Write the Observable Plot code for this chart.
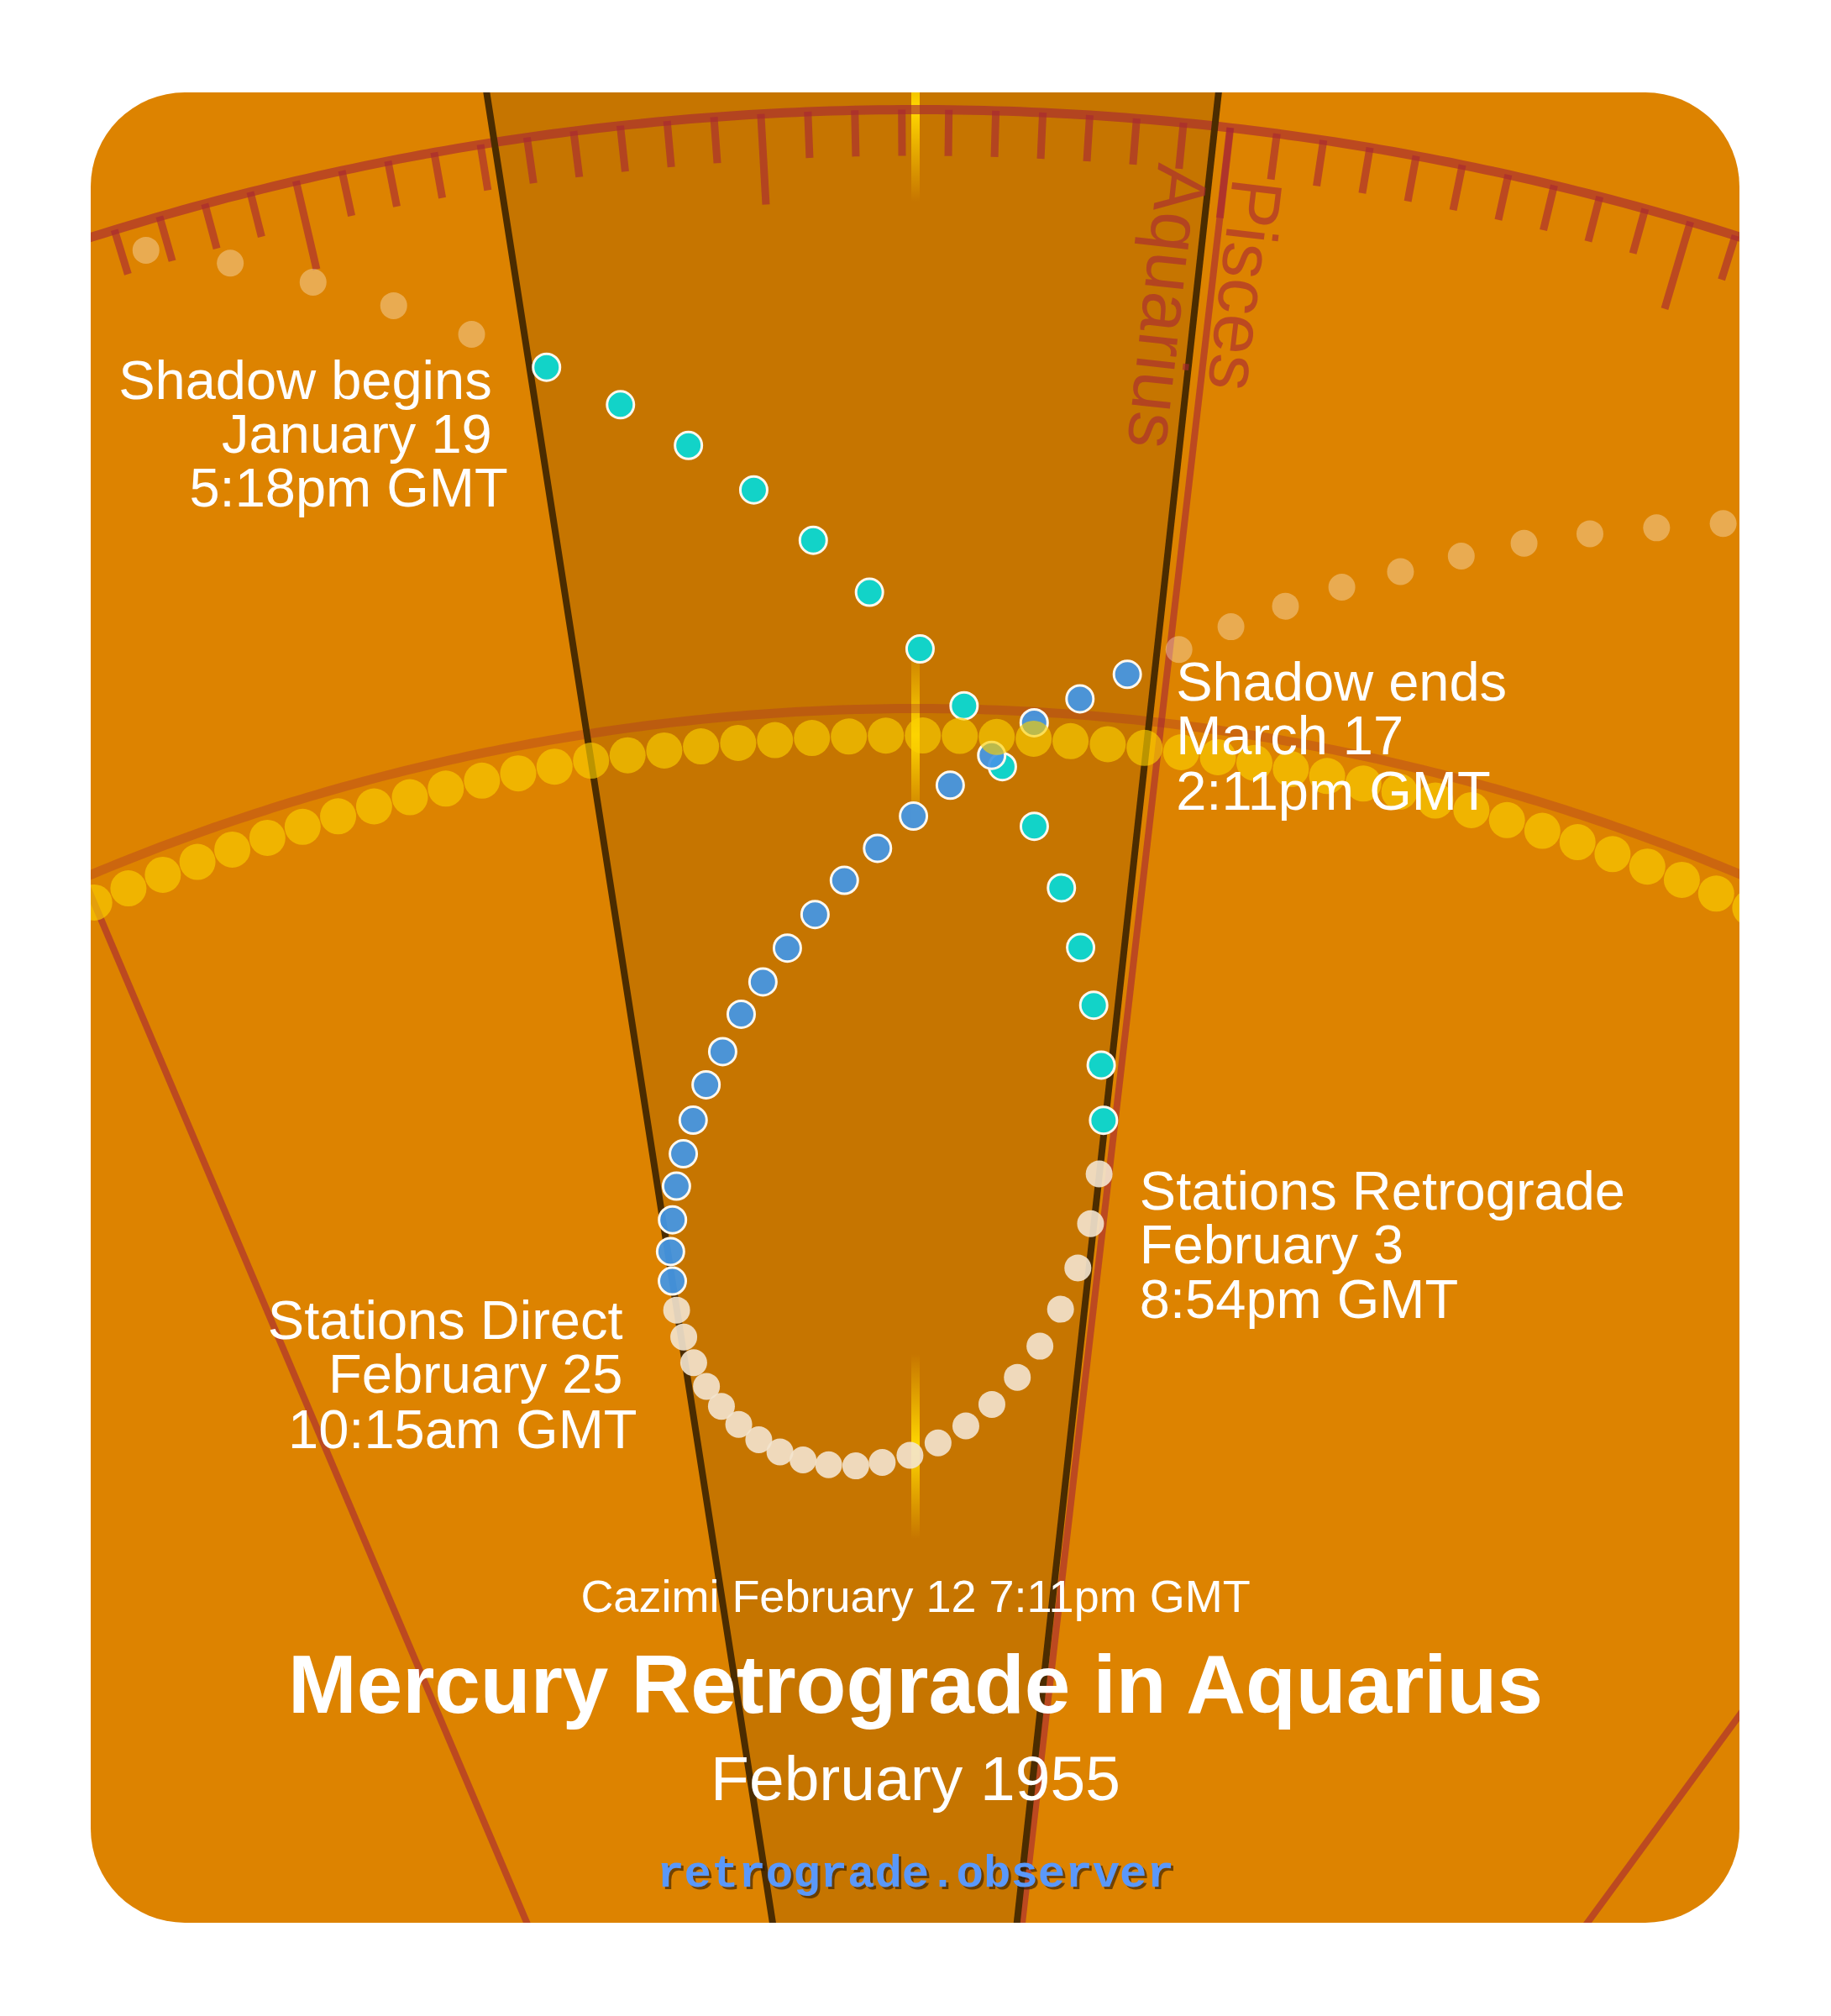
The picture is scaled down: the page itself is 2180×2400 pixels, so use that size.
<!DOCTYPE html>
<html>
<head>
<meta charset="utf-8">
<script src="https://cdn.jsdelivr.net/npm/d3@7"></script>
<script src="https://cdn.jsdelivr.net/npm/@observablehq/plot@0.6"></script>
<style>
  html, body { margin: 0; padding: 0; background: #ffffff; }
  #card { position: absolute; left: 108px; top: 110px; width: 1963px; height: 2179px;
          border-radius: 112px; overflow: hidden; background: #dd8300; }
  #card svg { display: block; }
</style>
</head>
<body>
<div id="card"></div>
<script>
// ---------------- data (ecliptic longitude in degrees, radial distance in chart units) ----------------
const cazimiLon = 323.3;          // Sun–Mercury conjunction, centre of the view
const stationDirectLon = 314.30;  // shadow begins / stations direct
const stationRetroLon = 329.67;   // stations retrograde / shadow ends
const signBoundaries = [300, 330, 360];
const signNames = ["Aquarius", "Pisces"];

// Mercury, one dot per day
const preLon  = [306.52, 308.20, 309.86, 311.50, 313.11];
const preDist = [3216, 3174, 3128, 3080, 3029];

const shadowInLon  = [314.69, 316.29, 317.80, 319.30, 320.71, 322.10, 323.41, 324.61, 325.72, 326.71, 327.62, 328.34, 328.91, 329.34, 329.61];
const shadowInDist = [2976, 2920, 2863, 2804, 2740, 2676, 2608, 2541, 2470, 2401, 2330, 2261, 2194, 2124, 2059];

const retroLon  = [329.66, 329.55, 329.26, 328.77, 328.11, 327.32, 326.37, 325.35, 324.22, 323.05, 321.88, 320.76, 319.62, 318.56, 317.63, 316.81, 316.07, 315.47, 314.99, 314.63, 314.40, 314.29];
const retroDist = [1995, 1935, 1881, 1830, 1784, 1745, 1711, 1684, 1663, 1648, 1640, 1637, 1640, 1648, 1660, 1677, 1698, 1722, 1748, 1778, 1810, 1843];

const shadowOutLon  = [314.30, 314.40, 314.64, 314.95, 315.34, 315.82, 316.39, 317.05, 317.76, 318.53, 319.36, 320.26, 321.18, 322.18, 323.23, 324.27, 325.41, 326.54, 327.74, 328.95];
const shadowOutDist = [1878, 1913, 1950, 1989, 2026, 2064, 2104, 2141, 2183, 2219, 2257, 2295, 2334, 2371, 2409, 2446, 2483, 2524, 2556, 2590];

const postLon  = [330.24, 331.51, 332.82, 334.15, 335.52, 336.91, 338.33, 339.81, 341.30, 342.77];
const postDist = [2626, 2661, 2695, 2729, 2761, 2795, 2828, 2860, 2890, 2920];

// Sun, one dot per day
const sunLon = [297.97, 298.99, 300.01, 301.03, 302.05, 303.07, 304.09, 305.11, 306.13, 307.15,
                308.18, 309.20, 310.22, 311.24, 312.26, 313.28, 314.30, 315.32, 316.34, 317.36,
                318.39, 319.41, 320.43, 321.45, 322.47, 323.49, 324.51, 325.53, 326.55, 327.57,
                328.60, 329.62, 330.64, 331.66, 332.68, 333.70, 334.72, 335.74, 336.76, 337.78,
                338.81, 339.83, 340.85, 341.87, 342.89, 343.91, 344.93, 345.95, 346.97, 347.99, 349.01];
const sunDist = 2505;
const mercuryCazimiDist = 1658;

// text
const eventNames = ["Shadow begins", "Stations Retrograde", "Stations Direct", "Shadow ends"];
const eventDates = ["January 19", "February 3", "February 25", "March 17"];
const eventTimes = ["5:18pm GMT", "8:54pm GMT", "10:15am GMT", "2:11pm GMT"];
const cazimiLabel = "Cazimi February 12 7:11pm GMT";
const titleText = "Mercury Retrograde in Aquarius";
const subtitleText = "February 1955";
const siteText = "retrograde.observer";

// ---------------- projection ----------------
const R_OUT = 3250;      // zodiac ring
const R_SUNLINE = 2537;  // ecliptic line beside the sun track
const K = 0.987;
const rad = d => d * Math.PI / 180;
function proj(lon, dist) {
  const a = rad(K * (lon - cazimiLon));
  return {x: dist * Math.sin(a), y: dist * Math.cos(a)};
}
const phase = (lons, dists) => lons.map((lon, i) => ({lon, dist: dists[i], ...proj(lon, dists[i])}));

const pre = phase(preLon, preDist);
const shadowIn = phase(shadowInLon, shadowInDist);
const retro = phase(retroLon, retroDist);
const shadowOut = phase(shadowOutLon, shadowOutDist);
const post = phase(postLon, postDist);
const sun = sunLon.map(lon => ({lon, ...proj(lon, sunDist)}));

const W = 1963, H = 2179, CX = 982, CY = 3270;
const SANS = "'Liberation Sans', Arial, Helvetica, sans-serif";
const MONO = "'Courier New', 'Liberation Mono', monospace";
const RED = "#a82832";

const arcLons = d3.range(280, 370.01, 0.25);
const tickDegs = d3.range(285, 366);
const glow = [mercuryCazimiDist, sunDist, R_OUT];
const GL = 110;

function radial(lons, r0, r1, opts) {
  return Plot.link(lons, {
    x1: l => proj(l, r0).x, y1: l => proj(l, r0).y,
    x2: l => proj(l, typeof r1 === "function" ? r1(l) : r1).x,
    y2: l => proj(l, typeof r1 === "function" ? r1(l) : r1).y,
    ...opts
  });
}

function eventLabel(anchor, i, {dx, dys, textAnchor, lastDx = 0}) {
  const lines = [eventNames[i], eventDates[i], eventTimes[i]];
  return lines.map((t, j) => Plot.text([anchor], {
    x: "x", y: "y", text: () => t,
    dx: dx + (j === 2 ? lastDx : 0), dy: dys[j],
    textAnchor, lineAnchor: "bottom",
    fill: "white", fontSize: 65, fontFamily: SANS
  }));
}

const marks = [
  // retrograde zone wedge
  Plot.line([proj(stationDirectLon, 0), proj(stationDirectLon, 6000), proj(stationRetroLon, 6000), proj(stationRetroLon, 0)],
    {x: "x", y: "y", fill: "#000", fillOpacity: 0.1, stroke: "none"}),
  // cazimi glow
  Plot.rect(glow, {
    x1: r => proj(cazimiLon, r - GL).x, x2: r => proj(cazimiLon, r + GL).x,
    y1: r => proj(cazimiLon, r - GL).y, y2: r => proj(cazimiLon, r + GL).y,
    insetLeft: -5, insetRight: -5, fill: "url(#cazimiGlow)"
  }),
  // sign boundaries
  radial(signBoundaries, 0, R_OUT, {stroke: RED, strokeOpacity: 0.63, strokeWidth: 8}),
  // zodiac ring and ticks
  Plot.line(arcLons.map(l => proj(l, R_OUT)), {x: "x", y: "y", stroke: RED, strokeOpacity: 0.63, strokeWidth: 11}),
  radial(tickDegs, R_OUT, l => R_OUT - (l % 10 === 0 ? 108 : 55), {stroke: RED, strokeOpacity: 0.63, strokeWidth: 9}),
  // ecliptic line beside the sun
  Plot.line(arcLons.map(l => proj(l, R_SUNLINE)), {x: "x", y: "y", stroke: RED, strokeOpacity: 0.31, strokeWidth: 11}),
  // station lines
  radial([stationDirectLon, stationRetroLon], 0, 6000, {stroke: "#4b2c00", strokeWidth: 8}),
  // sign labels
  Plot.text([proj(329.656, 3200)], {x: "x", y: "y", text: () => signNames[0], rotate: 90 + K * (329.656 - cazimiLon),
    textAnchor: "start", lineAnchor: "top", fontSize: 86, fontFamily: SANS, fill: RED, fillOpacity: 0.63}),
  Plot.text([proj(330.18, 3193)], {x: "x", y: "y", text: () => signNames[1], rotate: 90 + K * (330.18 - cazimiLon),
    textAnchor: "start", lineAnchor: "bottom", fontSize: 86, fontFamily: SANS, fill: RED, fillOpacity: 0.63}),
  // Mercury
  Plot.dot(pre, {x: "x", y: "y", r: 16, fill: "#fff4e0", fillOpacity: 0.36}),
  Plot.dot(post, {x: "x", y: "y", r: 16, fill: "#fff4e0", fillOpacity: 0.36}),
  Plot.dot(shadowIn, {x: "x", y: "y", r: 16, fill: "#12d3c8", stroke: "#fff8ee", strokeWidth: 3}),
  Plot.dot(retro, {x: "x", y: "y", r: 16, fill: "#f3e4cf", fillOpacity: 0.9}),
  Plot.dot(shadowOut, {x: "x", y: "y", r: 16, fill: "#4397e6", fillOpacity: 0.93, stroke: "#fff8ee", strokeWidth: 3}),
  // Sun
  Plot.dot(sun, {x: "x", y: "y", r: 21.5, fill: "#fbd000", fillOpacity: 0.64}),
  // event labels
  ...eventLabel(shadowIn[0], 0, {dx: -65, dys: [38, 102, 166], textAnchor: "end", lastDx: 19}),
  ...eventLabel(shadowIn[shadowIn.length - 1], 1, {dx: 43, dys: [106, 170, 235], textAnchor: "start"}),
  ...eventLabel(shadowOut[0], 2, {dx: -59, dys: [69, 133, 199], textAnchor: "end", lastDx: 17}),
  ...eventLabel(shadowOut[shadowOut.length - 1], 3, {dx: 58, dys: [31, 95, 161], textAnchor: "start"}),
  // titles
  Plot.text([cazimiLabel], {frameAnchor: "bottom", text: d => d, dy: -371, lineAnchor: "bottom",
    fontSize: 54, fontFamily: SANS, fill: "white"}),
  Plot.text([titleText], {frameAnchor: "bottom", text: d => d, dy: -251, lineAnchor: "bottom",
    fontSize: 98, fontWeight: "bold", fontFamily: SANS, fill: "white"}),
  Plot.text([subtitleText], {frameAnchor: "bottom", text: d => d, dy: -147, lineAnchor: "bottom",
    fontSize: 75, fontFamily: SANS, fill: "white"}),
  Plot.text([siteText], {frameAnchor: "bottom", text: d => d, dx: 3, dy: -41, lineAnchor: "bottom",
    fontSize: 54, fontWeight: "bold", fontFamily: MONO, fill: "#2a1800", fillOpacity: 0.6}),
  Plot.text([siteText], {frameAnchor: "bottom", text: d => d, dy: -44, lineAnchor: "bottom",
    fontSize: 54, fontWeight: "bold", fontFamily: MONO, fill: "#5a98fa"})
];

const chart = Plot.plot({
  width: W, height: H,
  margin: 0, marginTop: 0, marginRight: 0, marginBottom: 0, marginLeft: 0,
  x: {type: "linear", domain: [-CX, W - CX], range: [0, W], axis: null},
  y: {type: "linear", domain: [CY - H, CY], range: [H, 0], axis: null},
  style: {background: "transparent", fontFamily: SANS, overflow: "hidden"},
  marks
});

const ns = "http://www.w3.org/2000/svg";
const defs = document.createElementNS(ns, "defs");
defs.innerHTML = '<linearGradient id="cazimiGlow" x1="0" y1="0" x2="0" y2="1">' +
  '<stop offset="0" stop-color="#ffd200" stop-opacity="0"/>' +
  '<stop offset="0.5" stop-color="#ffd800" stop-opacity="1"/>' +
  '<stop offset="1" stop-color="#ffd200" stop-opacity="0"/></linearGradient>';
chart.insertBefore(defs, chart.firstChild);
document.getElementById("card").appendChild(chart);
</script>
</body>
</html>
